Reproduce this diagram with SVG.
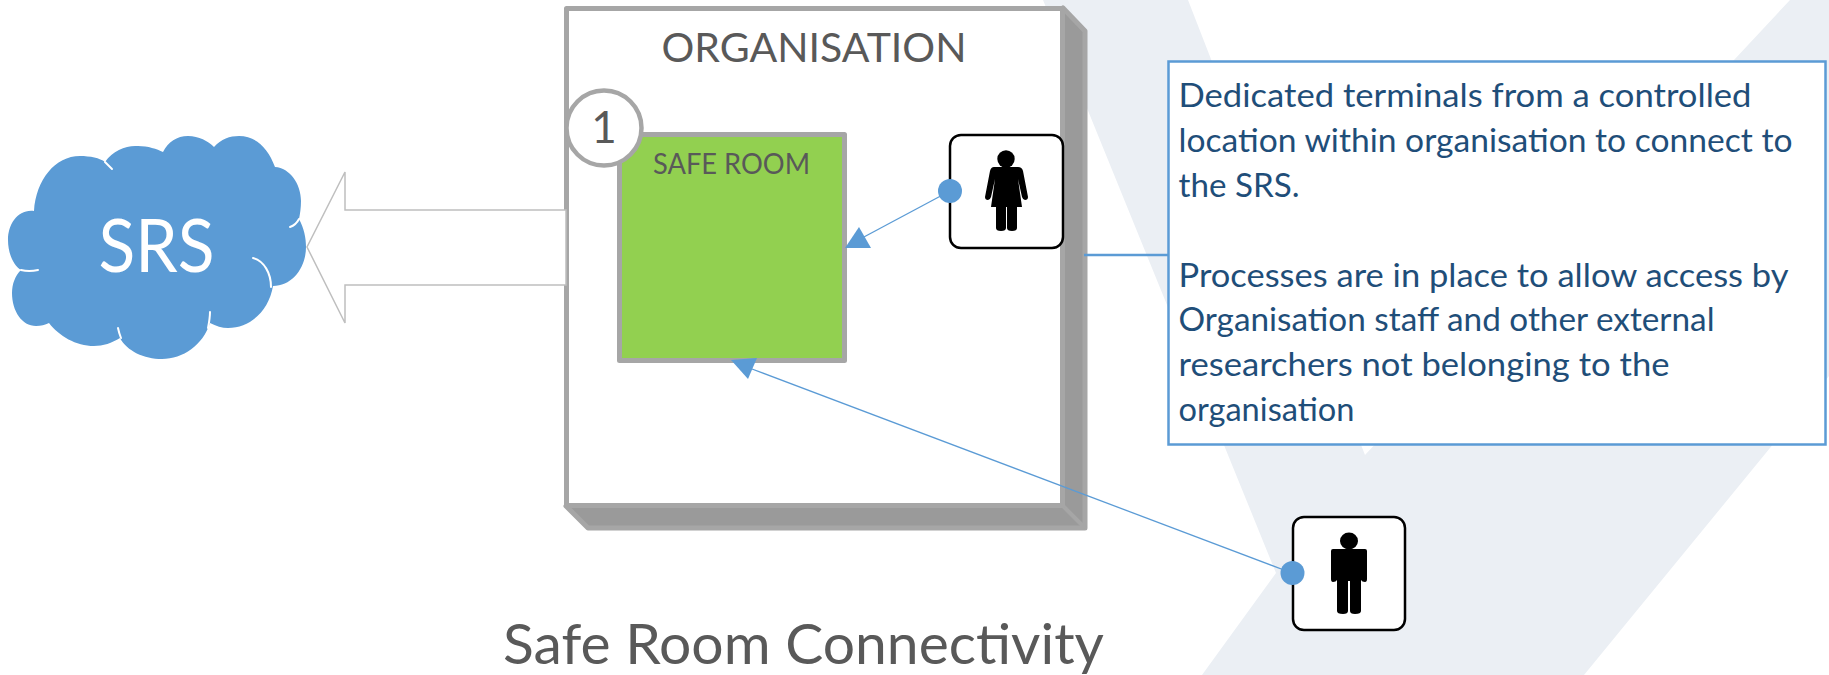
<svg xmlns="http://www.w3.org/2000/svg" width="1829" height="675" viewBox="0 0 1829 675">
<style>
text{font-family:Lato,"Liberation Sans",sans-serif}
.grey{fill:#595959}
.body{fill:#1f4e79;font-size:32px}
.person{fill:#fff;stroke:#000;stroke-width:2.5}
.dot{fill:#5b9bd5}
.link{fill:none;stroke:#5b9bd5;stroke-width:1.3}
.bevel{fill:#9a9a9a;stroke:#a6a6a6;stroke-width:5;stroke-linejoin:round}
.arc{fill:none;stroke:#fff;stroke-width:2;stroke-linecap:round}
</style>
<rect width="1829" height="675" fill="#fff"/>
<polygon fill="#ebeff4" points="1043,0 1188,0 1365,455 1790,0 1829,0 1829,376 1584,675 1202,675 1276,573"/>

<g id="organisation">
<path class="bevel" d="M1063,8 L1085,31 V528 H588 L566,506 Z"/>
<path d="M1063,506 L1085,528" fill="none" stroke="#a6a6a6" stroke-width="4"/>
<rect x="566.5" y="8.5" width="496" height="497" fill="#fff" stroke="#a6a6a6" stroke-width="5" stroke-linejoin="round"/>
<text class="grey" x="661.5" y="62" font-size="41" textLength="305" lengthAdjust="spacingAndGlyphs">ORGANISATION</text>
</g>

<g id="srs">
<path fill="#5b9bd5" d="M34,211 C36,180 55,156 80,156 C90,156 100,158 105,162 C113,150 127,145 138,146 C148,146 157,149 163,152 C168,142 177,136 188,136 C199,136 208,141 214,147 C221,139 230,136 239,136 C256,136 268,148 275,167 C290,168 301,184 301,201 C301,208 300,214 299,219 C304,228 306,238 306,247 C306,268 292,286 273,286 C269,310 251,328 228,328 C222,328 216,326 210,323 C203,345 183,359 162,359 C144,359 127,351 120,338 C112,343 103,346 94,346 C76,346 59,336 49,323 C45,325 41,326 36,326 C22,326 12,311 12,293 C12,284 15,276 21,270 C13,265 8,253 8,240 C8,224 18,209 34,211 Z"/>
<path class="arc" d="M105,162 L112,169"/>
<path class="arc" d="M299,219 Q296,225 290,227"/>
<path class="arc" d="M253,258 C264,261 271,273 271,287"/>
<path class="arc" d="M210,312 Q210,318 208,328"/>
<path class="arc" d="M118,328 Q119,333 121,338"/>
<path class="arc" d="M21,270 Q29,272 38,270"/>
<text x="98.5" y="272" font-size="73" fill="#fff" textLength="116" lengthAdjust="spacingAndGlyphs">SRS</text>
</g>

<g id="srs-arrow">
<polygon points="566,210 345,210 345,172 307,247 345,323 345,285 566,285" fill="#fff" stroke="#bfbfbf" stroke-width="1.5"/>
</g>

<g id="safe-room">
<rect x="619.5" y="134.5" width="225" height="226" fill="#92d050" stroke="#a6a6a6" stroke-width="5" stroke-linejoin="round"/>
<text class="grey" x="653" y="174" font-size="28" textLength="157" lengthAdjust="spacingAndGlyphs">SAFE ROOM</text>
</g>

<g id="badge">
<circle cx="604" cy="128" r="37.5" fill="#fff" stroke="#a6a6a6" stroke-width="4.5"/>
<text class="grey" x="604" y="143" font-size="44" text-anchor="middle">1</text>
</g>

<g id="person-female">
<rect class="person" x="950" y="135" width="113" height="113" rx="11"/>
<circle cx="1006" cy="159" r="8.7"/>
<path d="M994,167 H1018 Q1022,167 1023,171 L1028,197 Q1028,200 1025,200 Q1023,200 1022,197 L1018,179 L1022,207 H1017 V228 Q1017,231 1012,231 Q1007,231 1007,228 V207 H1006 V228 Q1006,231 1001,231 Q996,231 996,228 V207 H991 L995,179 L991,197 Q990,200 988,200 Q985,200 985,197 L990,171 Q991,167 994,167 Z"/>
</g>

<g id="person-male">
<rect class="person" x="1293" y="517" width="112" height="113" rx="11"/>
<ellipse cx="1349" cy="541" rx="9" ry="8.4"/>
<path d="M1333,549 H1365 Q1367,549 1367,551 V579 Q1367,582 1365,582 Q1362,582 1361,580 V611 Q1361,614 1355,614 Q1350,614 1350,611 V581 H1348 V611 Q1348,614 1343,614 Q1337,614 1337,611 V580 Q1336,582 1333,582 Q1331,582 1331,579 V551 Q1331,549 1333,549 Z"/>
</g>

<g id="callout">
<rect x="1168.5" y="61.5" width="657" height="383" fill="#fff" stroke="#5b9bd5" stroke-width="2.5"/>
<text class="body" x="1178.5" y="107" textLength="573" lengthAdjust="spacingAndGlyphs">Dedicated terminals from a controlled</text>
<text class="body" x="1178.5" y="152" textLength="614" lengthAdjust="spacingAndGlyphs">location within organisation to connect to</text>
<text class="body" x="1178.5" y="197" textLength="121" lengthAdjust="spacingAndGlyphs">the SRS.</text>
<text class="body" x="1178.5" y="287" textLength="610" lengthAdjust="spacingAndGlyphs">Processes are in place to allow access by</text>
<text class="body" x="1178.5" y="331" textLength="536" lengthAdjust="spacingAndGlyphs">Organisation staff and other external</text>
<text class="body" x="1178.5" y="376" textLength="491" lengthAdjust="spacingAndGlyphs">researchers not belonging to the</text>
<text class="body" x="1178.5" y="421" textLength="176" lengthAdjust="spacingAndGlyphs">organisation</text>
</g>

<g id="title">
<text class="grey" x="503" y="664" font-size="56" textLength="601" lengthAdjust="spacingAndGlyphs">Safe Room Connectivity</text>
</g>

<g id="connectors">
<line x1="1084" y1="255" x2="1168" y2="255" stroke="#5b9bd5" stroke-width="2.5"/>
<line class="link" x1="950" y1="191" x2="862" y2="238"/>
<polygon class="dot" points="845,248 859,227 871,248"/>
<circle class="dot" cx="950" cy="191" r="12"/>
<line class="link" x1="1292" y1="573" x2="752" y2="369"/>
<polygon class="dot" points="731,360 757,358 748,379"/>
<circle class="dot" cx="1292.5" cy="573" r="12"/>
</g>
</svg>
